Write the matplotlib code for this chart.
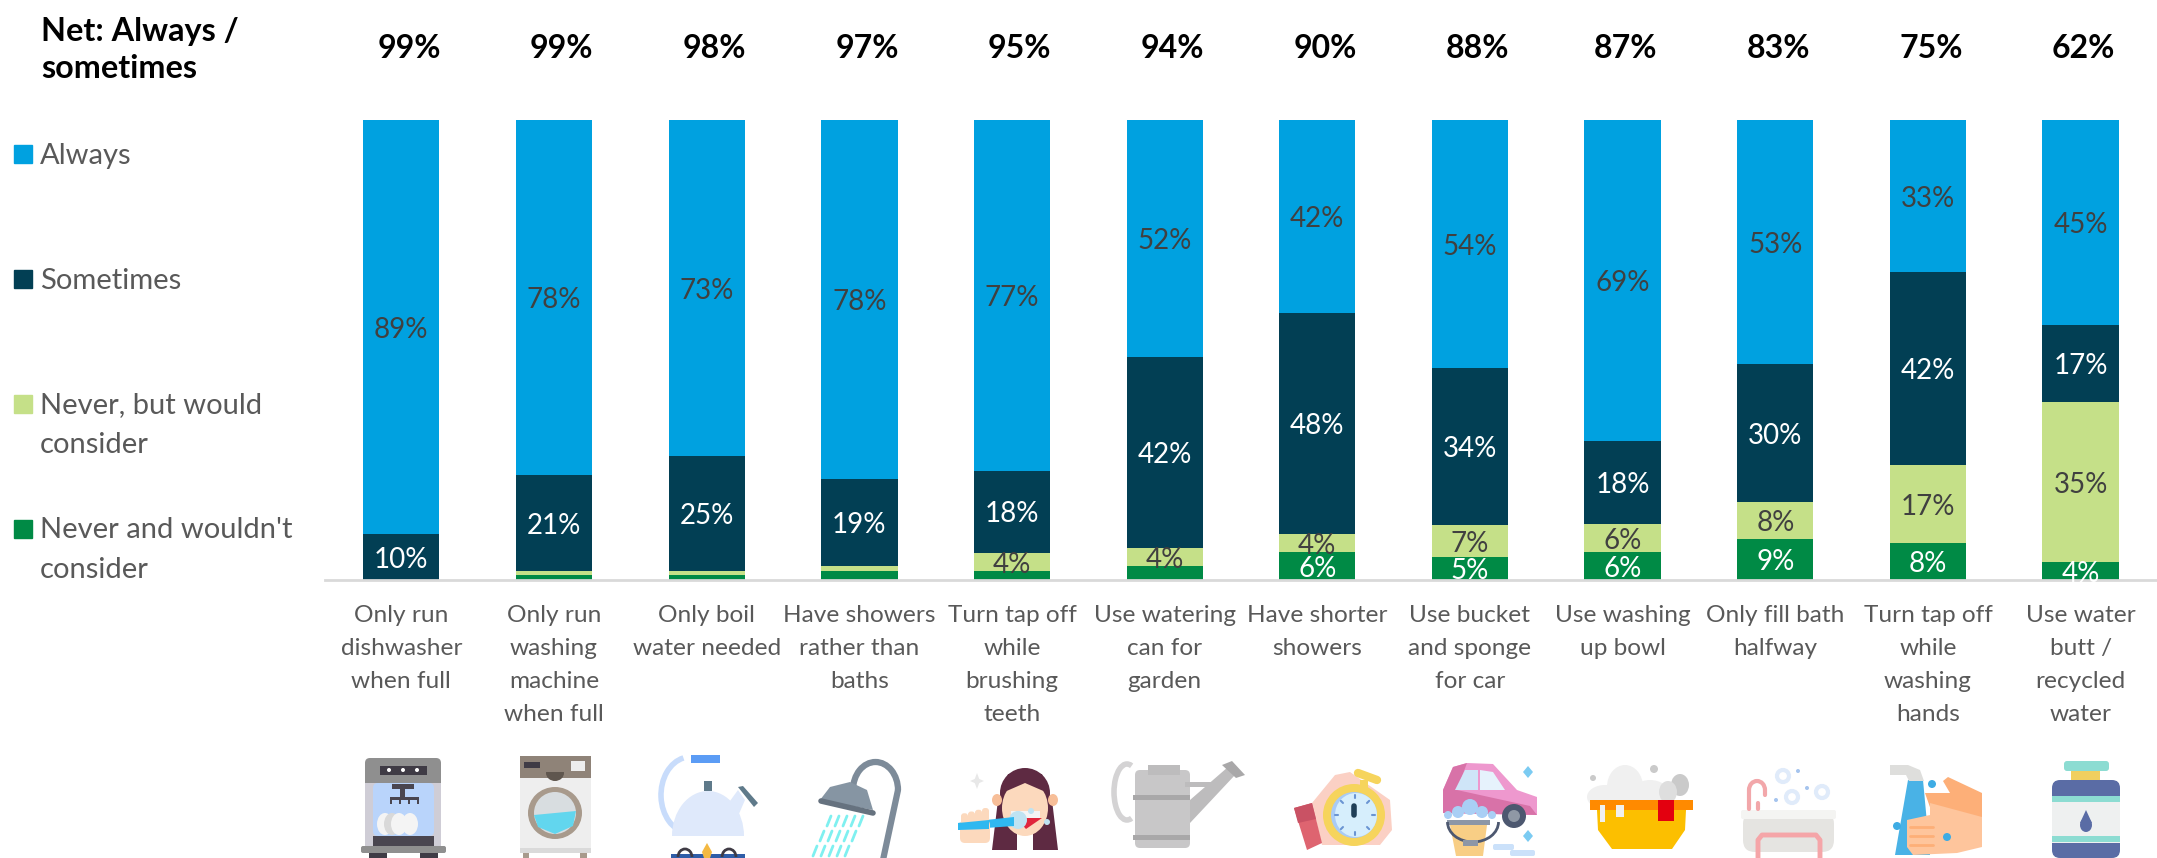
import matplotlib
matplotlib.use("Agg")
import matplotlib.pyplot as plt
import numpy as np
from matplotlib.patches import Rectangle, Ellipse, Polygon, FancyBboxPatch, Arc

plt.rcParams['font.family'] = ['Lato', 'DejaVu Sans']

# Chart data
activities = ["Only run\ndishwasher\nwhen full", "Only run\nwashing\nmachine\nwhen full",
              "Only boil\nwater needed", "Have showers\nrather than\nbaths",
              "Turn tap off\nwhile\nbrushing\nteeth", "Use watering\ncan for\ngarden",
              "Have shorter\nshowers", "Use bucket\nand sponge\nfor car",
              "Use washing\nup bowl", "Only fill bath\nhalfway",
              "Turn tap off\nwhile\nwashing\nhands", "Use water\nbutt /\nrecycled\nwater"]
net = [99, 99, 98, 97, 95, 94, 90, 88, 87, 83, 75, 62]
always = [89, 78, 73, 78, 77, 52, 42, 54, 69, 53, 33, 45]
sometimes = [10, 21, 25, 19, 18, 42, 48, 34, 18, 30, 42, 17]
never_would = [0, 1, 1, 1, 4, 4, 4, 7, 6, 8, 17, 35]
never_wouldnt = [0, 1, 1, 2, 2, 3, 6, 5, 6, 9, 8, 4]

series_names = ["Always", "Sometimes", "Never, but would\nconsider", "Never and wouldn't\nconsider"]
colours = ["#00A1E0", "#023F54", "#C5E088", "#008A45"]
label_colours = ["#404040", "white", "#404040", "white"]
MIN_LABEL = 4

W, H = 2157, 858
fig = plt.figure(figsize=(W/100, H/100), dpi=100)
ax = fig.add_axes([325/W, 1-580/H, 1832/W, 460/H])

# Stacked to 100%, bottom series first
x = np.arange(len(activities))
stack = np.array([never_wouldnt, never_would, sometimes, always], dtype=float)
shares = stack / stack.sum(axis=0) * 100
bottom = np.zeros(len(x))
for row, raw, colour, txt in zip(shares, stack, colours[::-1], label_colours[::-1]):
    bars = ax.bar(x, row, width=0.5, bottom=bottom, color=colour)
    labels = [f"{int(v)}%" if v >= MIN_LABEL else "" for v in raw]
    ax.bar_label(bars, labels=labels, label_type="center", color=txt, fontsize=20, padding=-2)
    bottom += row

ax.set_xlim(-0.5, 11.5)
ax.set_ylim(0, 100)
ax.set_yticks([])
ax.set_xticks(x)
ax.set_xticklabels(activities, fontsize=17.6, color="#595959", linespacing=1.7, va="top")
ax.tick_params(axis="x", length=0, pad=18)
for s in ["top", "left", "right"]:
    ax.spines[s].set_visible(False)
ax.spines["bottom"].set_color("#D9D9D9")
ax.spines["bottom"].set_linewidth(2)

# Totals sit slightly right of the bars, less so for the last four
for xi, v in zip(x, net):
    shift = 0.05 if xi < 8 else 0.02
    ax.text(xi + shift, 115.5, f"{v}%", ha="center", va="center", fontsize=23, fontweight="bold", color="black")

# Overlay in pixel coordinates for the legend and the pictures
ov = fig.add_axes([0, 0, 1, 1], zorder=5)
ov.set_xlim(0, W)
ov.set_ylim(H, 0)
ov.axis("off")
ov.patch.set_alpha(0)

ov.text(41, 50, "Net: Always /\nsometimes", fontsize=23.3, fontweight="bold", va="center", ha="left", linespacing=1.3)
for name, colour, y in zip(series_names, colours, [154, 279, 404, 529]):
    ov.add_patch(Rectangle((14, y-9), 18, 18, color=colour))
    if "\n" in name:
        ov.text(40, y-12, name, fontsize=21, color="#595959", va="top", ha="left", linespacing=1.65)
    else:
        ov.text(40, y+2, name, fontsize=21, color="#595959", va="center", ha="left")


def rect(x0, y0, x1, y1, c):
    ov.add_patch(Rectangle((x0, y0), x1-x0, y1-y0, color=c, lw=0))


def rrect(x0, y0, x1, y1, c, r=5):
    ov.add_patch(FancyBboxPatch((x0+r, y0+r), x1-x0-2*r, y1-y0-2*r, boxstyle=f"round,pad={r}", color=c, lw=0))


def ell(cx, cy, rx, ry, c):
    ov.add_patch(Ellipse((cx, cy), 2*rx, 2*ry, color=c, lw=0))


def ring(cx, cy, r, c):
    ov.add_patch(Ellipse((cx, cy), 2*r, 2*r, fc="none", ec=c, lw=3))


def poly(pts, c):
    ov.add_patch(Polygon(pts, closed=True, color=c, lw=0))


def line(xs, ys, c, lw=2):
    ov.plot(xs, ys, color=c, lw=lw, solid_capstyle="round")


def arc(cx, cy, w, h, t1, t2, c, lw=4):
    # y runs downwards here, so 180-360 is the upper half
    ov.add_patch(Arc((cx, cy), w, h, theta1=t1, theta2=t2, color=c, lw=lw))


# dishwasher
rrect(365, 758, 441, 790, "#8F8F8F")
rect(365, 783, 441, 846, "#CFCDD6")
rect(380, 766, 427, 775, "#3F3B45")
for px in [389, 403, 417]:
    ell(px, 770, 2, 2, "white")
rrect(373, 783, 434, 836, "#B9D4FB")
rect(392, 784, 414, 789, "#4A4650")
rect(400, 789, 405, 797, "#4A4650")
rect(390, 797, 418, 800, "#4A4650")
for px in [390, 399, 408, 417]:
    rect(px, 797, px+2, 804, "#4A4650")
for px in [385, 392, 399, 410]:
    ell(px, 824, 8, 11, "#F4F4F4" if px != 392 else "#D9D9D9")
rect(373, 836, 434, 846, "#4A4650")
rrect(361, 846, 446, 853, "#8F8F8F", 2)
rect(369, 853, 387, 858, "#3F3B45")
rect(420, 853, 438, 858, "#3F3B45")

# washing machine
rect(520, 778, 591, 850, "#EEEEEE")
rect(520, 756, 591, 778, "#8F8378")
rect(571, 761, 585, 771, "#EDEDED")
rect(524, 762, 540, 768, "#3F3B45")
ell(555, 773, 9, 8, "#5F564E")
rect(546, 762, 564, 772, "#8F8378")
ell(555, 813, 27, 26, "#A89A8C")
ell(555, 813, 21, 21, "#D8DDE0")
poly([(534, 815), (576, 811), (573, 826), (555, 834), (538, 827)], "#62D6EE")
rect(520, 848, 591, 853, "#DADADA")
rect(523, 853, 529, 858, "#A89A8C")
rect(580, 853, 587, 858, "#A89A8C")

# kettle
arc(690, 795, 58, 76, 95, 260, "#C8DCFB", 4)
rect(691, 755, 720, 763, "#5B9CF5")
poly([(722, 812), (738, 790), (745, 800), (732, 830)], "#DFE9FB")
poly([(738, 787), (743, 786), (758, 803), (754, 807)], "#5F7A8A")
ell(708, 836, 36, 45, "#DFE9FB")
rect(665, 836, 750, 858, "white")
rect(704, 781, 712, 791, "#5F7A8A")
rect(671, 854, 745, 858, "#2F5DA8")
poly([(707, 843), (712, 852), (710, 858), (704, 858), (702, 852)], "#F4B942")
arc(685, 857, 14, 16, 180, 360, "#3F3B45", 2)
arc(729, 857, 14, 16, 180, 360, "#3F3B45", 2)

# shower
arc(875.5, 790, 45, 56, 180, 360, "#7D8B99", 4.5)
line([898, 883], [790, 860], "#7D8B99", 4.5)
poly([(820, 800), (830, 787), (850, 782), (867, 790), (873, 810)], "#8695A3")
line([821, 873], [801, 813], "#66727F", 4)
for k in range(5):
    xt = 831 + 8*k
    for s in range(3):
        dx = -7*s
        line([xt+dx, xt+dx-4], [816+15*s, 826+15*s], "#7FF0F0", 2)

# girl brushing teeth
ell(1025, 793, 25, 25, "#5E2A42")
poly([(998, 800), (1017, 800), (1017, 850), (992, 850)], "#5E2A42")
poly([(1033, 800), (1052, 800), (1058, 850), (1033, 850)], "#5E2A42")
ell(997, 800, 5, 6, "#F7BE98")
ell(1053, 800, 5, 6, "#F7BE98")
ell(1025, 808, 23, 28, "#FCD9BD")
poly([(1002, 793), (1025, 783), (1048, 793), (1042, 774), (1008, 774)], "#5E2A42")
rect(1011, 811, 1040, 818, "#F4F4F4")
poly([(1016, 818), (1042, 818), (1026, 829)], "#E0263C")
ell(1018, 820, 9, 9, "#BFE3F2")
poly([(958, 823), (1014, 817), (1014, 826), (958, 830)], "#2FB8F0")
rrect(960, 820, 990, 843, "#FCD9BD", 5)
for px in [964, 971, 978, 985]:
    rrect(px-3, 808+abs(px-985)/4, px+4, 824, "#FCD9BD", 3)
poly([(958, 823), (989, 820), (989, 829), (958, 830)], "#2FB8F0")
ell(1031, 811, 3, 3, "#BFE3F2")
ell(1047, 822, 3, 3, "#BFE3F2")
poly([(977, 773), (980, 781), (977, 789), (974, 781)], "#E8E8E8")
poly([(970, 781), (977, 778), (984, 781), (977, 784)], "#E8E8E8")

# watering can
arc(1127, 792, 26, 56, 80, 280, "#D4D3D4", 4)
rrect(1135, 770, 1190, 848, "#C8C7C8", 5)
rect(1148, 765, 1180, 775, "#BDBCBD")
rect(1133, 795, 1190, 800, "#A9A8A9")
rect(1133, 835, 1190, 840, "#A9A8A9")
poly([(1190, 823), (1190, 800), (1228, 767), (1235, 775)], "#BDBCBD")
rect(1185, 782, 1215, 787, "#BDBCBD")
poly([(1222, 765), (1232, 761), (1245, 775), (1236, 778)], "#A9A8A9")

# stopwatch in hand
poly([(1312, 803), (1335, 775), (1350, 772), (1390, 800), (1392, 830), (1380, 845), (1322, 845)], "#FBD0C4")
poly([(1294, 808), (1312, 803), (1322, 843), (1307, 850)], "#DE6470")
poly([(1294, 808), (1312, 803), (1316, 819), (1298, 823)], "#C95264")
line([1358, 1377], [773, 780], "#F6D45C", 6)
rect(1360, 780, 1368, 790, "#F6D45C")
ell(1354, 815, 31, 31, "#F6D45C")
ell(1354, 815, 23, 23, "#A9CBF5")
ell(1356, 815, 21, 22, "#D6EEFC")
line([1354, 1354], [806, 815], "#1F3F57", 4)
for ang in np.arange(0, 360, 45):
    ca, sa = np.cos(np.radians(ang)), np.sin(np.radians(ang))
    line([1355+17*ca, 1355+20*ca], [815+17*sa, 815+20*sa], "#6A94D2", 1.5)

# car and bucket
poly([(1443, 790), (1453, 767), (1467, 763), (1493, 764), (1517, 790), (1537, 797), (1537, 815), (1443, 813)], "#EE98CE")
poly([(1443, 790), (1453, 767), (1467, 763), (1457, 790), (1530, 806), (1537, 815), (1443, 813)], "#D872A8")
poly([(1455, 790), (1465, 770), (1478, 770), (1478, 790)], "#CFE5F8")
poly([(1480, 770), (1493, 772), (1505, 790), (1480, 790)], "#E6F2FC")
ell(1514, 816, 12, 12, "#4D5870")
ell(1514, 816, 6, 6, "#8F98A5")
poly([(1450, 825), (1487, 825), (1483, 856), (1456, 856)], "#F8CE85")
rect(1447, 820, 1490, 825, "#8C96A6")
arc(1473, 822, 51, 40, 0, 180, "#4D5870", 2)
rect(1463, 840, 1478, 846, "#8C96A6")
for cx, cy, r in [(1448, 815, 4), (1492, 815, 4), (1458, 812, 6), (1482, 812, 6), (1470, 807, 8)]:
    ell(cx, cy, r, r, "#A9CFF5")
poly([(1528, 766), (1533, 772), (1528, 778), (1523, 772)], "#7BCBF2")
poly([(1528, 830), (1533, 836), (1528, 842), (1523, 836)], "#7BCBF2")
rrect(1493, 844, 1514, 850, "#CBE1FA", 2)
rrect(1510, 850, 1535, 856, "#CBE1FA", 2)

# washing-up bowl
ell(1625, 787, 18, 22, "#F0F0F0")
ell(1605, 797, 18, 12, "#F0F0F0")
ell(1650, 795, 20, 15, "#F0F0F0")
ell(1680, 785, 9, 11, "#CACACA")
ell(1668, 792, 9, 11, "#DEDEDE")
ell(1593, 778, 3, 3, "#CACACA")
ell(1654, 769, 4, 4, "#CACACA")
rect(1590, 800, 1693, 810, "#FF8A00")
poly([(1597, 810), (1686, 810), (1685, 830), (1672, 849), (1612, 849), (1598, 830)], "#FCBF00")
rect(1658, 800, 1674, 821, "#E3000F")
rect(1600, 805, 1605, 822, "#F0F0F0")
rect(1616, 805, 1624, 817, "#F0F0F0")

# bath
rrect(1743, 812, 1834, 852, "#E5E4E1", 12)
rrect(1741, 810, 1836, 819, "#F4F4F2", 2)
line([1758, 1758, 1762, 1816, 1820, 1820], [858, 840, 835, 835, 840, 858], "#F5A5A8", 3.5)
arc(1757, 790, 16, 18, 180, 360, "#F2A7AA", 3)
line([1749, 1749], [790, 809], "#F2A7AA", 3)
line([1765, 1765], [790, 795], "#F2A7AA", 3)
line([1758, 1758], [803, 809], "#F2A7AA", 3)
for cx, cy in [(1783, 776), (1792, 797), (1822, 792)]:
    ring(cx, cy, 6, "#E0EBFA")
for cx, cy in [(1798, 771), (1807, 788), (1776, 800)]:
    ell(cx, cy, 2, 2, "#A5C4EE")

# washing hands
poly([(1925, 793), (1950, 793), (1943, 781), (1948, 777), (1965, 785), (1982, 793), (1982, 845), (1945, 850)], "#FDAF78")
poly([(1908, 780), (1923, 780), (1930, 855), (1895, 855)], "#49B2E6")
poly([(1890, 765), (1908, 765), (1920, 770), (1924, 781), (1909, 781), (1906, 775), (1890, 775)], "#DEDEDC")
poly([(1930, 803), (1982, 817), (1982, 847), (1957, 853), (1913, 855), (1907, 847), (1907, 820), (1930, 815)], "#FEC59C")
for fy in [827, 836, 845]:
    line([1910, 1933], [fy, fy], "#FDAF78", 2)
for cx, cy, r in [(1932, 784, 4), (1897, 826, 4), (1947, 837, 4)]:
    ell(cx, cy, r, r, "#3EACE4")

# bottle
rrect(2064, 761, 2109, 771, "#8CDCD2", 3)
rect(2071, 771, 2100, 780, "#F1CF5F")
rrect(2052, 780, 2120, 858, "#5A6CA5", 8)
rect(2052, 796, 2120, 843, "#EEF0F0")
rect(2052, 796, 2120, 802, "#8CDCD2")
rect(2052, 836, 2120, 842, "#8CDCD2")
ell(2086, 825, 6, 7, "#5A6CA5")
poly([(2086, 810), (2092, 823), (2080, 823)], "#5A6CA5")

fig.savefig("out.png", dpi=100)
